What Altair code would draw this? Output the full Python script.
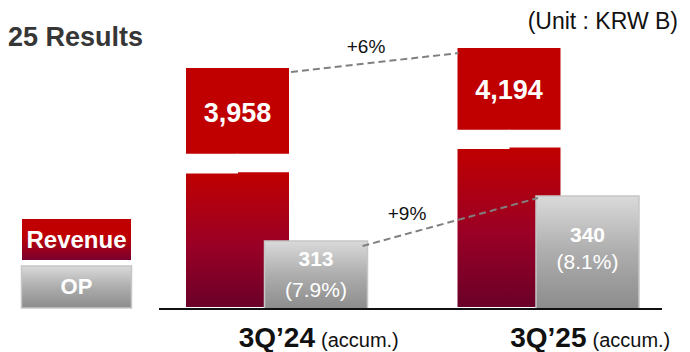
import altair as alt
import pandas as pd

# ---- data ----
categories = ["3Q’24", "3Q’25"]
revenue = [3958, 4194]
op = [313, 340]
op_margin = ["(7.9%)", "(8.1%)"]
rev_growth = "+6%"
op_growth = "+9%"
title_text = "25 Results"
unit_text = "(Unit : KRW B)"
suffix_text = "(accum.)"

# ---- style ----
FONT = "Liberation Sans, Arial, sans-serif"
RED = "#C00000"
BAR_W = 103
REV_OFF = -39.5
OP_OFF = 39
# broken-axis gap (in value units of the compressed segment)
BRK_LO = [587, 1411]
BRK_HI = [1204, 2005]
# label placement (pixels below the bar top)
REV_DY = [46, 43]
OP_NUM_DY = [19, 40.5]
OP_MG_DY = [50, 67]

df = pd.DataFrame({
    "cat": categories,
    "revenue": revenue,
    "op": op,
    "rev_label": [f"{v:,}" for v in revenue],
    "op_label": [str(v) for v in op],
    "margin": op_margin,
    "brk_lo": BRK_LO,
    "brk_hi": BRK_HI,
})

conn = pd.DataFrame({
    "c1": [categories[0]], "c2": [categories[1]],
    "r1": [revenue[0]], "r2": [revenue[1]],
    "o1": [op[0]], "o2": [op[1]],
    "rg": [rev_growth], "og": [op_growth],
})

xs = alt.Scale(domain=categories, range=[133.25, 676.25], paddingInner=0, paddingOuter=0)
ys = alt.Scale(domain=[0, 300, 350, 3900, 4250], range=[301, 254.7, 171.3, 64.9, 35.3],
               zero=False, nice=False)
X = alt.X("cat:N", scale=xs, axis=None)

def Y(field):
    return alt.Y(field, scale=ys, axis=None)

def grad(stops):
    return alt.Gradient(gradient="linear", x1=0, x2=0, y1=0, y2=1,
                        stops=[alt.GradientStop(color=c, offset=o) for c, o in stops])

red_grad = grad([(RED, 0), ("#990026", 0.55), ("#6A0028", 1)])
gray_grad = grad([("#DADADA", 0), ("#ADADAD", 0.5), ("#8C8C8C", 1)])

base = alt.Chart(df)

rev_lower = base.mark_bar(width=BAR_W, xOffset=REV_OFF, color=red_grad, y2Offset=-2).encode(
    x=X, y=Y("brk_lo:Q"), y2=alt.datum(0))
rev_upper = base.mark_bar(width=BAR_W, xOffset=REV_OFF, color=RED, yOffset=2).encode(
    x=X, y=Y("brk_hi:Q"), y2="revenue:Q")
gap_l = base.mark_bar(width=BAR_W / 2 + 1, xOffset=REV_OFF - BAR_W / 4, yOffset=1.4,
                      color="white").encode(x=X, y=Y("brk_lo:Q"), y2="brk_hi:Q")
gap_r = base.mark_bar(width=BAR_W / 2 + 1, xOffset=REV_OFF + BAR_W / 4, yOffset=-1.4,
                      color="white").encode(x=X, y=Y("brk_lo:Q"), y2="brk_hi:Q")

op_bar = base.mark_bar(width=BAR_W, xOffset=OP_OFF, color=gray_grad, stroke="#C6C6C6",
                       strokeWidth=1.5).encode(x=X, y=Y("op:Q"))

label_layers = []
for i, c in enumerate(categories):
    b = base.transform_filter(alt.datum.cat == c)
    label_layers.append(b.mark_text(font=FONT, fontSize=27, fontWeight="bold", color="white",
                                    xOffset=REV_OFF, dy=REV_DY[i], baseline="middle").encode(
        x=X, y=Y("revenue:Q"), text="rev_label:N"))
    label_layers.append(b.mark_text(font=FONT, fontSize=21, fontWeight="bold", color="white",
                                    xOffset=OP_OFF, dy=OP_NUM_DY[i], baseline="middle").encode(
        x=X, y=Y("op:Q"), text="op_label:N"))
    label_layers.append(b.mark_text(font=FONT, fontSize=21, color="white",
                                    xOffset=OP_OFF, dy=OP_MG_DY[i], baseline="middle").encode(
        x=X, y=Y("op:Q"), text="margin:N"))

cb = alt.Chart(conn)
CX = alt.X("c1:N", scale=xs, axis=None)
rev_conn = cb.mark_rule(color="#808080", strokeWidth=2, strokeDash=[7, 4],
                        xOffset=REV_OFF + BAR_W / 2 + 2, x2Offset=REV_OFF - BAR_W / 2 + 1,
                        yOffset=4, y2Offset=5).encode(
    x=CX, x2="c2:N", y=Y("r1:Q"), y2="r2:Q")
op_conn = cb.mark_rule(color="#808080", strokeWidth=2, strokeDash=[7, 4],
                       xOffset=OP_OFF + BAR_W / 2 - 5, x2Offset=OP_OFF - BAR_W / 2 + 2,
                       yOffset=5, y2Offset=2).encode(
    x=CX, x2="c2:N", y=Y("o1:Q"), y2="o2:Q")
rev_g = cb.mark_text(font=FONT, fontSize=19, color="#111111", dx=89, dy=-21,
                     baseline="middle").encode(x=CX, y=Y("r1:Q"), text="rg:N")
op_g = cb.mark_text(font=FONT, fontSize=19, color="#111111", dx=130, dy=-27.5,
                    baseline="middle").encode(x=CX, y=Y("o1:Q"), text="og:N")

axis_line = alt.Chart(pd.DataFrame({"v": [0]})).mark_rule(color="#111111", strokeWidth=2).encode(
    y=Y("v:Q"), x=alt.value(151), x2=alt.value(654))

cat_main = base.mark_text(font=FONT, fontSize=28, fontWeight="bold", color="#111111",
                          align="right", dx=38, baseline="alphabetic").encode(
    x=X, y=alt.value(339), text="cat:N")
cat_suf = base.mark_text(font=FONT, fontSize=20, color="#111111",
                         align="left", dx=44, baseline="alphabetic").encode(
    x=X, y=alt.value(339), text=alt.value(suffix_text))

title = alt.Chart(pd.DataFrame({"t": [title_text]})).mark_text(
    font=FONT, fontSize=27, fontWeight="bold", color="#363636", align="left",
    baseline="alphabetic").encode(x=alt.value(0), y=alt.value(38), text="t:N")
unit = alt.Chart(pd.DataFrame({"t": [unit_text]})).mark_text(
    font=FONT, fontSize=23, color="#111111", align="right", baseline="alphabetic").encode(
    x=alt.value(670), y=alt.value(21), text="t:N")

leg = pd.DataFrame({"name": ["Revenue", "OP"]})
leg_rev = alt.Chart(leg.iloc[[0]]).mark_rect(
    color=grad([(RED, 0), (RED, 0.4), ("#7A0030", 1)])).encode(
    x=alt.value(14), x2=alt.value(123), y=alt.value(211), y2=alt.value(252))
leg_op = alt.Chart(leg.iloc[[1]]).mark_rect(
    color=gray_grad, stroke="#C6C6C6", strokeWidth=1.5).encode(
    x=alt.value(13.5), x2=alt.value(123.5), y=alt.value(258), y2=alt.value(300))
leg_rev_t = alt.Chart(leg.iloc[[0]]).mark_text(
    font=FONT, fontSize=24, fontWeight="bold", color="white", baseline="middle").encode(
    x=alt.value(68.5), y=alt.value(233), text="name:N")
leg_op_t = alt.Chart(leg.iloc[[1]]).mark_text(
    font=FONT, fontSize=22, fontWeight="bold", color="white", baseline="middle").encode(
    x=alt.value(68.5), y=alt.value(279), text="name:N")

chart = alt.layer(
    rev_lower, rev_upper, gap_l, gap_r, op_bar,
    rev_conn, op_conn, *label_layers, rev_g, op_g,
    axis_line, cat_main, cat_suf, title, unit,
    leg_rev, leg_op, leg_rev_t, leg_op_t,
).properties(
    width=674, height=344,
    autosize=alt.AutoSizeParams(type="none"), padding=0,
).configure_view(stroke=None)

chart.save("out.html", embed_options={"renderer": "svg", "actions": False})
